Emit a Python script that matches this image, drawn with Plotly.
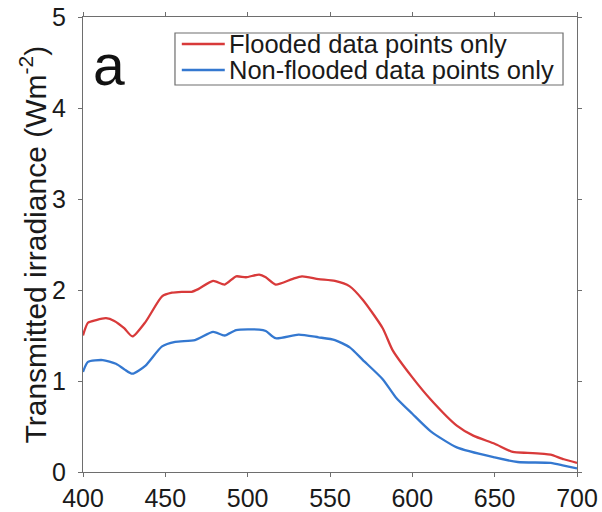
import plotly.graph_objects as go

# Wavelength (nm) and transmitted irradiance (W m^-2)
wl_flooded = [400, 403, 408, 414, 419, 425, 430, 438, 448, 454, 460, 466, 470, 479, 486, 493, 499, 507, 511, 517,
              527, 533, 543, 553, 562, 570, 582, 588, 600, 611, 627, 637, 650, 661, 670, 680, 684, 692, 700]
flooded = [1.50, 1.64, 1.67, 1.69, 1.66, 1.58, 1.49, 1.65, 1.93, 1.97, 1.98, 1.98, 2.01, 2.10, 2.06, 2.15, 2.14,
           2.17, 2.14, 2.06, 2.12, 2.15, 2.12, 2.10, 2.04, 1.89, 1.58, 1.34, 1.04, 0.80, 0.51, 0.40, 0.31, 0.22,
           0.21, 0.20, 0.19, 0.14, 0.10]

wl_nonflooded = [400, 403, 412, 420, 425, 430, 438, 448, 456, 468, 479, 486, 493, 507, 511, 517, 531, 543, 553,
                 562, 570, 582, 590, 600, 611, 627, 650, 664, 684, 692, 700]
nonflooded = [1.10, 1.21, 1.23, 1.19, 1.13, 1.08, 1.17, 1.38, 1.43, 1.45, 1.54, 1.50, 1.56, 1.565, 1.55, 1.47,
              1.51, 1.48, 1.45, 1.37, 1.23, 1.02, 0.82, 0.64, 0.45, 0.27, 0.16, 0.11, 0.10, 0.07, 0.04]

series_names = ["Flooded data points only", "Non-flooded data points only"]
series_colors = ["#d83a3a", "#3478d0"]

x_ticks = [400, 450, 500, 550, 600, 650, 700]
y_ticks = [0, 1, 2, 3, 4, 5]

FONT = "Liberation Sans, Arial, Helvetica, sans-serif"
AXIS_GREY = "#6e6e6e"

fig = go.Figure()
for xs, ys, name, color in [(wl_flooded, flooded, series_names[0], series_colors[0]),
                            (wl_nonflooded, nonflooded, series_names[1], series_colors[1])]:
    fig.add_trace(go.Scatter(x=xs, y=ys, mode="lines", name=name, showlegend=False,
                             line=dict(color=color, width=2.3, shape="spline", smoothing=0.6)))

axis_common = dict(showline=True, linecolor=AXIS_GREY, linewidth=1.2, mirror="ticks", ticks="outside",
                   ticklen=4, tickwidth=1.2, tickcolor=AXIS_GREY, showgrid=False, zeroline=False,
                   automargin=False)

fig.update_xaxes(range=[400, 700], tickvals=x_ticks, ticklabelstandoff=0,
                 tickfont=dict(family=FONT, size=25, color="#1a1a1a"), **axis_common)
fig.update_yaxes(range=[0, 5], tickvals=y_ticks, ticklabelstandoff=7,
                 tickfont=dict(family=FONT, size=25, color="#1a1a1a"), **axis_common)

# y-axis label
fig.add_annotation(x=0, y=0.5, xref="paper", yref="paper", xshift=-50, textangle=-90,
                   text="Transmitted irradiance (Wm<sup>-2</sup>)", showarrow=False,
                   xanchor="center", yanchor="middle",
                   font=dict(family=FONT, size=30, color="#1a1a1a"))

# panel letter
fig.add_annotation(x=0.053, y=0.895, xref="paper", yref="paper", text="a", showarrow=False,
                   xanchor="center", yanchor="middle",
                   font=dict(family=FONT, size=57, color="#111111"))

# legend box with line samples and labels
box = dict(x0=0.1862, x1=0.9717, y0=0.8505, y1=0.9648)
fig.add_shape(type="rect", xref="paper", yref="paper", line=dict(color=AXIS_GREY, width=1.2),
              fillcolor="white", layer="above", **box)
row_y = [0.9407, 0.8835]
for name, color, yy in zip(series_names, series_colors, row_y):
    fig.add_shape(type="line", xref="paper", yref="paper", x0=0.200, x1=0.287, y0=yy, y1=yy,
                  line=dict(color=color, width=2.5), layer="above")
    fig.add_annotation(x=0.2915, y=yy, xref="paper", yref="paper", text=name, showarrow=False,
                       xanchor="left", yanchor="middle",
                       font=dict(family=FONT, size=25.5, color="#1a1a1a"))

fig.update_layout(
    width=602, height=512,
    margin=dict(l=83, r=25, t=17, b=40),
    paper_bgcolor="white", plot_bgcolor="white",
    showlegend=False,
)

fig.write_html("out.html")
